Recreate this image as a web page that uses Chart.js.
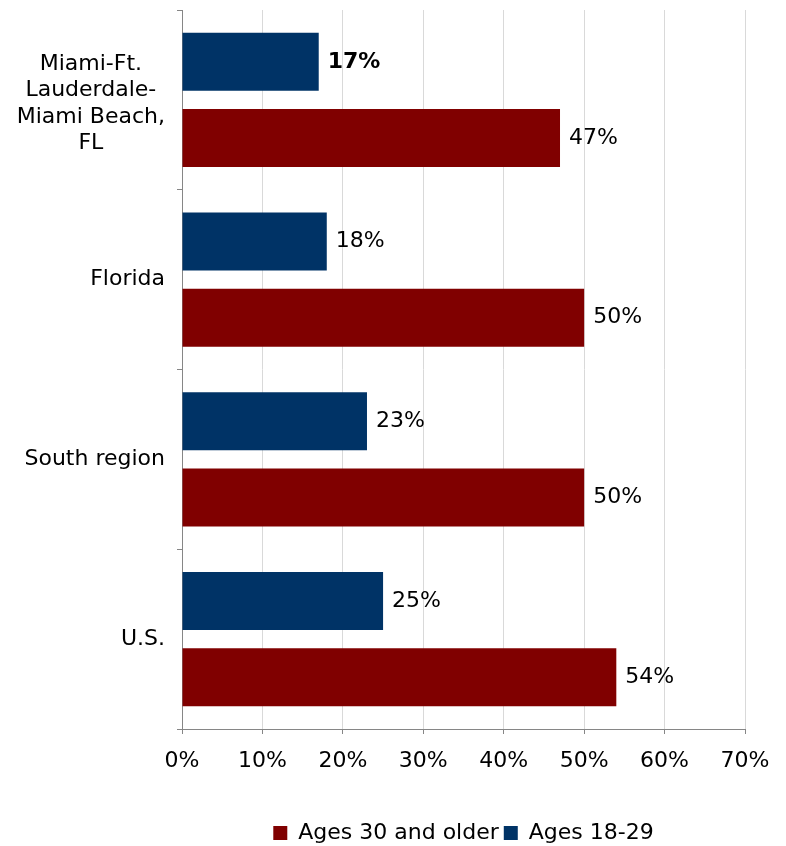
<!DOCTYPE html>
<html>
<head>
<meta charset="utf-8">
<script src="https://cdn.jsdelivr.net/npm/chart.js@4/dist/chart.umd.min.js"></script>
<style>
  html, body { margin: 0; padding: 0; background: #fff; }
  #wrap { width: 786px; height: 846px; }
</style>
</head>
<body>
<div id="wrap"><canvas id="chart" width="786" height="846"></canvas></div>
<script>
const categories = [
  ["Miami-Ft.", "Lauderdale-", "Miami Beach,", "FL"],
  ["Florida"],
  ["South region"],
  ["U.S."]
];
const young = [17, 18, 23, 25];   // Ages 18-29
const older = [47, 50, 50, 54];   // Ages 30 and older
const xTicks = [0, 10, 20, 30, 40, 50, 60, 70];

const FONT = "'DejaVu Sans', Verdana, sans-serif";
const AXIS = "#868686";

// category labels: right-aligned block, lines centred inside it
const catLabels = {
  id: "catLabels",
  afterDraw(chart) {
    const ctx = chart.ctx;
    const y = chart.scales.y;
    ctx.save();
    ctx.font = "22px " + FONT;
    ctx.fillStyle = "#000";
    ctx.textBaseline = "middle";
    ctx.textAlign = "center";
    const lh = 26.5;
    categories.forEach((lines, i) => {
      const w = Math.max(...lines.map((l) => ctx.measureText(l).width));
      const cx = 165 - w / 2;
      const cy = y.getPixelForValue(i) + (lines.length > 1 ? 4 : 0);
      lines.forEach((l, j) => {
        ctx.fillText(l, cx, cy + (j - (lines.length - 1) / 2) * lh);
      });
    });
    ctx.restore();
  }
};

// value labels at the end of each bar
const valueLabels = {
  id: "valueLabels",
  afterDatasetsDraw(chart) {
    const ctx = chart.ctx;
    ctx.save();
    ctx.fillStyle = "#000";
    ctx.textBaseline = "middle";
    ctx.textAlign = "left";
    chart.data.datasets.forEach((ds, di) => {
      chart.getDatasetMeta(di).data.forEach((bar, i) => {
        const bold = di === 0 && i === 0;
        ctx.font = (bold ? "bold " : "") + "22px " + FONT;
        ctx.fillText(ds.data[i] + "%", bar.x + 9, bar.y);
      });
    });
    ctx.restore();
  }
};

new Chart(document.getElementById("chart"), {
  type: "bar",
  data: {
    labels: categories.map((c) => c.join(" ")),
    datasets: [
      { label: "Ages 18-29", data: young, backgroundColor: "#003366" },
      { label: "Ages 30 and older", data: older, backgroundColor: "#800000" }
    ]
  },
  options: {
    indexAxis: "y",
    responsive: false,
    animation: false,
    categoryPercentage: 0.847,
    barPercentage: 0.763,
    layout: { padding: { top: 10, right: 41, bottom: -8, left: 182 } },
    scales: {
      x: {
        min: 0,
        max: 70,
        afterBuildTicks(scale) { scale.ticks = xTicks.map((v) => ({ value: v })); },
        afterFit(scale) { scale.height = 88; },
        ticks: {
          callback: (v) => v + "%",
          color: "#000",
          font: { family: FONT, size: 22 },
          padding: 14,
          maxRotation: 0
        },
        grid: { color: "#d9d9d9", tickColor: AXIS, tickLength: 5 },
        border: { color: AXIS }
      },
      y: {
        afterFit(scale) { scale.width = 0; },
        ticks: { display: false },
        grid: { drawOnChartArea: false, tickColor: AXIS, tickLength: 5 },
        border: { color: AXIS }
      }
    },
    plugins: {
      legend: {
        position: "bottom",
        reverse: true,
        labels: {
          color: "#000",
          font: { family: FONT, size: 22 },
          boxWidth: 14,
          boxHeight: 14,
          padding: 5
        }
      },
      tooltip: { enabled: false }
    }
  },
  plugins: [catLabels, valueLabels]
});
</script>
</body>
</html>
